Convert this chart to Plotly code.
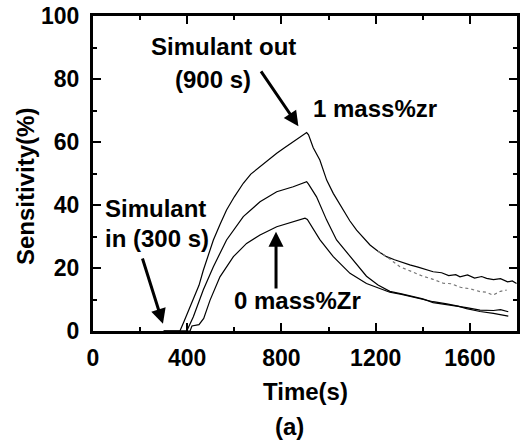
import plotly.graph_objects as go

# ---- data ----
t_1zr = [300, 369, 385, 400, 426, 450, 468, 490, 511, 540, 567, 600, 638, 670, 709, 740, 780,
         810, 850, 880, 907, 915, 935, 963, 992, 1020, 1062, 1090, 1119, 1150, 1176, 1210,
         1246, 1280, 1310, 1345, 1380, 1410, 1444, 1480, 1510, 1540, 1558, 1590, 1620, 1650,
         1671, 1700, 1730, 1760, 1780, 1798]
s_1zr = [0, 0, 2.8, 5.5, 9.8, 14.5, 19.2, 24.0, 28.9, 34.0, 38.4, 42.6, 46.9, 49.8, 52.2, 54.2,
         56.4, 58.0, 60.1, 61.6, 63.0, 62.3, 58.2, 54.3, 47.9, 43.7, 38.4, 35.0, 32.0, 29.4,
         27.3, 25.3, 23.6, 22.6, 21.8, 21.0, 20.3, 19.6, 18.8, 18.5, 17.6, 17.9, 17.2, 17.8,
         16.8, 17.3, 16.7, 16.3, 16.6, 15.6, 15.9, 15.1]

t_mid = [300, 398, 426, 468, 511, 567, 638, 709, 780, 850, 907, 915, 949, 992, 1034, 1091,
         1161, 1210, 1260, 1310, 1359, 1400, 1444, 1502, 1550, 1586, 1643, 1700, 1730, 1763]
s_mid = [0, 0, 4.5, 13.0, 20.4, 28.9, 36.3, 41.0, 44.2, 45.8, 47.4, 46.6, 42.6, 35.2, 28.9,
         23.6, 17.4, 14.6, 12.6, 11.8, 10.9, 10.2, 9.0, 8.4, 7.8, 7.4, 6.6, 6.5, 6.8, 6.1]

t_0zr = [300, 412, 420, 450, 470, 497, 539, 596, 652, 709, 780, 850, 900, 910, 963, 1020,
         1091, 1161, 1210, 1260, 1310, 1359, 1400, 1444, 1502, 1550, 1586, 1643, 1700, 1730, 1763]
s_0zr = [0, 0, 1.6, 2.0, 4.0, 9.8, 17.2, 23.6, 27.8, 30.5, 33.1, 34.7, 35.8, 35.4, 29.0, 23.6,
         18.3, 15.1, 13.6, 12.3, 11.6, 10.7, 10.0, 9.3, 8.6, 7.9, 7.1, 6.2, 5.6, 5.2, 4.7]

t_dot = [1210, 1250, 1303, 1350, 1400, 1444, 1486, 1520, 1560, 1600, 1643, 1670, 1698, 1730, 1756]
s_dot = [25.3, 23.4, 20.4, 18.9, 17.4, 16.4, 15.2, 15.0, 13.9, 13.4, 12.5, 12.3, 11.4, 12.6, 13.0]

x_ticks = [0, 400, 800, 1200, 1600]
y_ticks = [0, 20, 40, 60, 80, 100]

FONT = "Arial, Liberation Sans, sans-serif"

fig = go.Figure()
for tx, sy in [(t_1zr, s_1zr), (t_mid, s_mid), (t_0zr, s_0zr)]:
    fig.add_trace(go.Scatter(x=tx, y=sy, mode="lines",
                             line=dict(color="black", width=1.2), showlegend=False))
fig.add_trace(go.Scatter(x=t_dot, y=s_dot, mode="lines",
                         line=dict(color="#777777", width=1.2, dash="dot"), showlegend=False))

axis_common = dict(showline=True, linewidth=3, linecolor="black", mirror="ticks",
                   ticks="inside", ticklen=8, tickwidth=2, tickcolor="black",
                   showgrid=False, zeroline=False, automargin=False,
                   tickfont=dict(family=FONT, size=23, color="black", weight="bold"))

fig.update_xaxes(range=[0, 1800], tickvals=x_ticks, ticktext=[str(v) for v in x_ticks],
                 minor=dict(ticks="inside", ticklen=4, tickwidth=2, dtick=200, tickcolor="black"),
                 ticklabelstandoff=4, **axis_common)
fig.update_yaxes(range=[0, 100], tickvals=y_ticks, ticktext=[str(v) for v in y_ticks],
                 minor=dict(ticks="inside", ticklen=4, tickwidth=2, dtick=10, tickcolor="black"),
                 ticklabelstandoff=6, **axis_common)

af = dict(family=FONT, size=24, color="black", weight="bold")
ann = [
    dict(x=554, y=90.2, xref="x", yref="y", text="Simulant out", showarrow=False, font=af),
    dict(x=510, y=79.7, xref="x", yref="y", text="(900 s)", showarrow=False, font=af),
    dict(x=1199, y=70.5, xref="x", yref="y", text="1 mass%zr", showarrow=False, font=af),
    dict(x=42, y=39, xref="x", yref="y", text="Simulant", showarrow=False, font=af, xanchor="left"),
    dict(x=42, y=29.5, xref="x", yref="y", text="in (300 s)", showarrow=False, font=af, xanchor="left"),
    dict(x=868, y=9.8, xref="x", yref="y", text="0 mass%Zr", showarrow=False, font=af),
    dict(x=0.5, y=-0.1905, xref="paper", yref="paper", text="Time(s)", showarrow=False,
         font=af, yanchor="middle"),
    dict(x=(289 - 93) / 424, y=(331 - 426) / 315, xref="paper", yref="paper", text="(a)",
         showarrow=False, font=af, yanchor="middle"),
    dict(x=(25 - 93) / 424, y=(331 - 187) / 315, xref="paper", yref="paper",
         text="Sensitivity(%)", textangle=-90, showarrow=False, font=af,
         xanchor="center", yanchor="middle"),
]
arrows = [((709, 82.9), (872, 65.0)),
          ((208, 23.5), (297, 2.3)),
          ((777, 13.0), (777, 31.5))]
for (ax_, ay_), (hx, hy) in arrows:
    ann.append(dict(x=hx, y=hy, ax=ax_, ay=ay_, xref="x", yref="y", axref="x", ayref="y",
                    text="", showarrow=True, arrowhead=2, arrowsize=1.0, arrowwidth=3,
                    arrowcolor="black", standoff=0, startstandoff=0))

fig.update_layout(width=525, height=443, margin=dict(l=93, r=8, t=16, b=112),
                  paper_bgcolor="white", plot_bgcolor="white", annotations=ann,
                  font=dict(family=FONT, color="black"))

# remove the default page margin; if the usable width is narrower than the figure,
# fit the figure to it so the right-hand frame stays visible
post = ("document.body.style.margin='0';"
        "document.body.style.overflow='hidden';"
        "var gdiv=document.getElementsByClassName('plotly-graph-div')[0];"
        "var cw=document.documentElement.clientWidth;"
        "if (cw>400 && cw<525) Plotly.relayout(gdiv, {'width': cw});")

fig.write_html("out.html", config={"displayModeBar": False}, post_script=post)
